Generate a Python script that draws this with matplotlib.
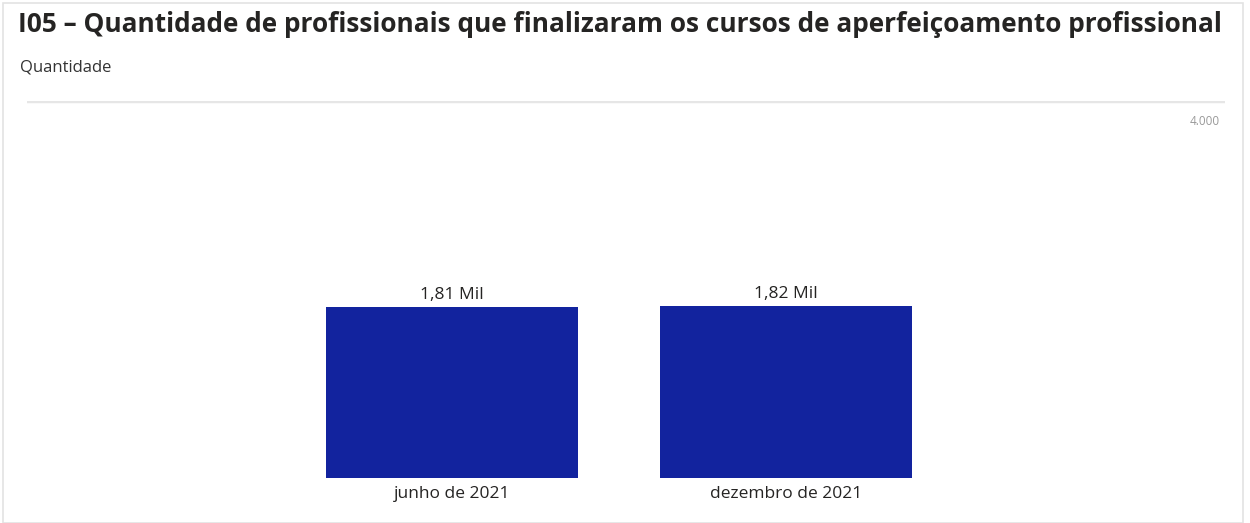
import matplotlib
matplotlib.use("Agg")
import matplotlib.pyplot as plt
from matplotlib.patches import Rectangle

categories = ["junho de 2021", "dezembro de 2021"]
values = [1810, 1820]
value_labels = ["1,81 Mil", "1,82 Mil"]
y_max = 4000
y_max_label = "4.000"

W, H = 1250, 523
fig = plt.figure(figsize=(W / 100, H / 100), dpi=100)
fig.patch.set_facecolor("white")

# frame
fig.patches.append(Rectangle((3 / W, 0), (1243 - 3) / W, 1 - 3 / H, transform=fig.transFigure,
                             fill=False, edgecolor="#e3e3e3", linewidth=1.2))

def fx(px):
    return px / W

def fy(py):
    return 1 - py / H

ax_left, ax_right, ax_top, ax_bottom = 27, 1225, 101, 478
ax = fig.add_axes([fx(ax_left), fy(ax_bottom), (ax_right - ax_left) / W, (ax_bottom - ax_top) / H])
ax.set_facecolor("none")

x = list(range(len(categories)))
ax.bar(x, values, width=0.755, color="#12239E")
ax.set_ylim(0, y_max)
ax.set_xlim(-1.272, 2.314)
for s in ax.spines.values():
    s.set_visible(False)
ax.set_yticks([])
ax.set_xticks(x)
ax.set_xticklabels(categories, fontsize=12.5, color="#252423", family="Open Sans")
ax.tick_params(axis="x", length=0, pad=6)
ax.axhline(y_max, color="#e6e6e6", linewidth=2.5)
ax.text(0.9955, 0.945, y_max_label, transform=ax.transAxes, ha="right", va="center",
        fontsize=8.5, color="#999999", family="Open Sans")

for xi, v, lab in zip(x, values, value_labels):
    ax.annotate(lab, (xi, v), xytext=(0, 3.5), textcoords="offset points", ha="center", va="bottom",
                fontsize=12.5, color="#252423", family="Open Sans")

fig.text(fx(18), fy(25), "I05 – Quantidade de profissionais que finalizaram os cursos de aperfeiçoamento profissional",
         ha="left", va="center", fontsize=18.9, fontweight="bold", color="#252423", family="Open Sans")
fig.text(fx(20), fy(68), "Quantidade", ha="left", va="center", fontsize=12, color="#333333", family="Open Sans")

fig.savefig("out.png", dpi=100, facecolor="white")
